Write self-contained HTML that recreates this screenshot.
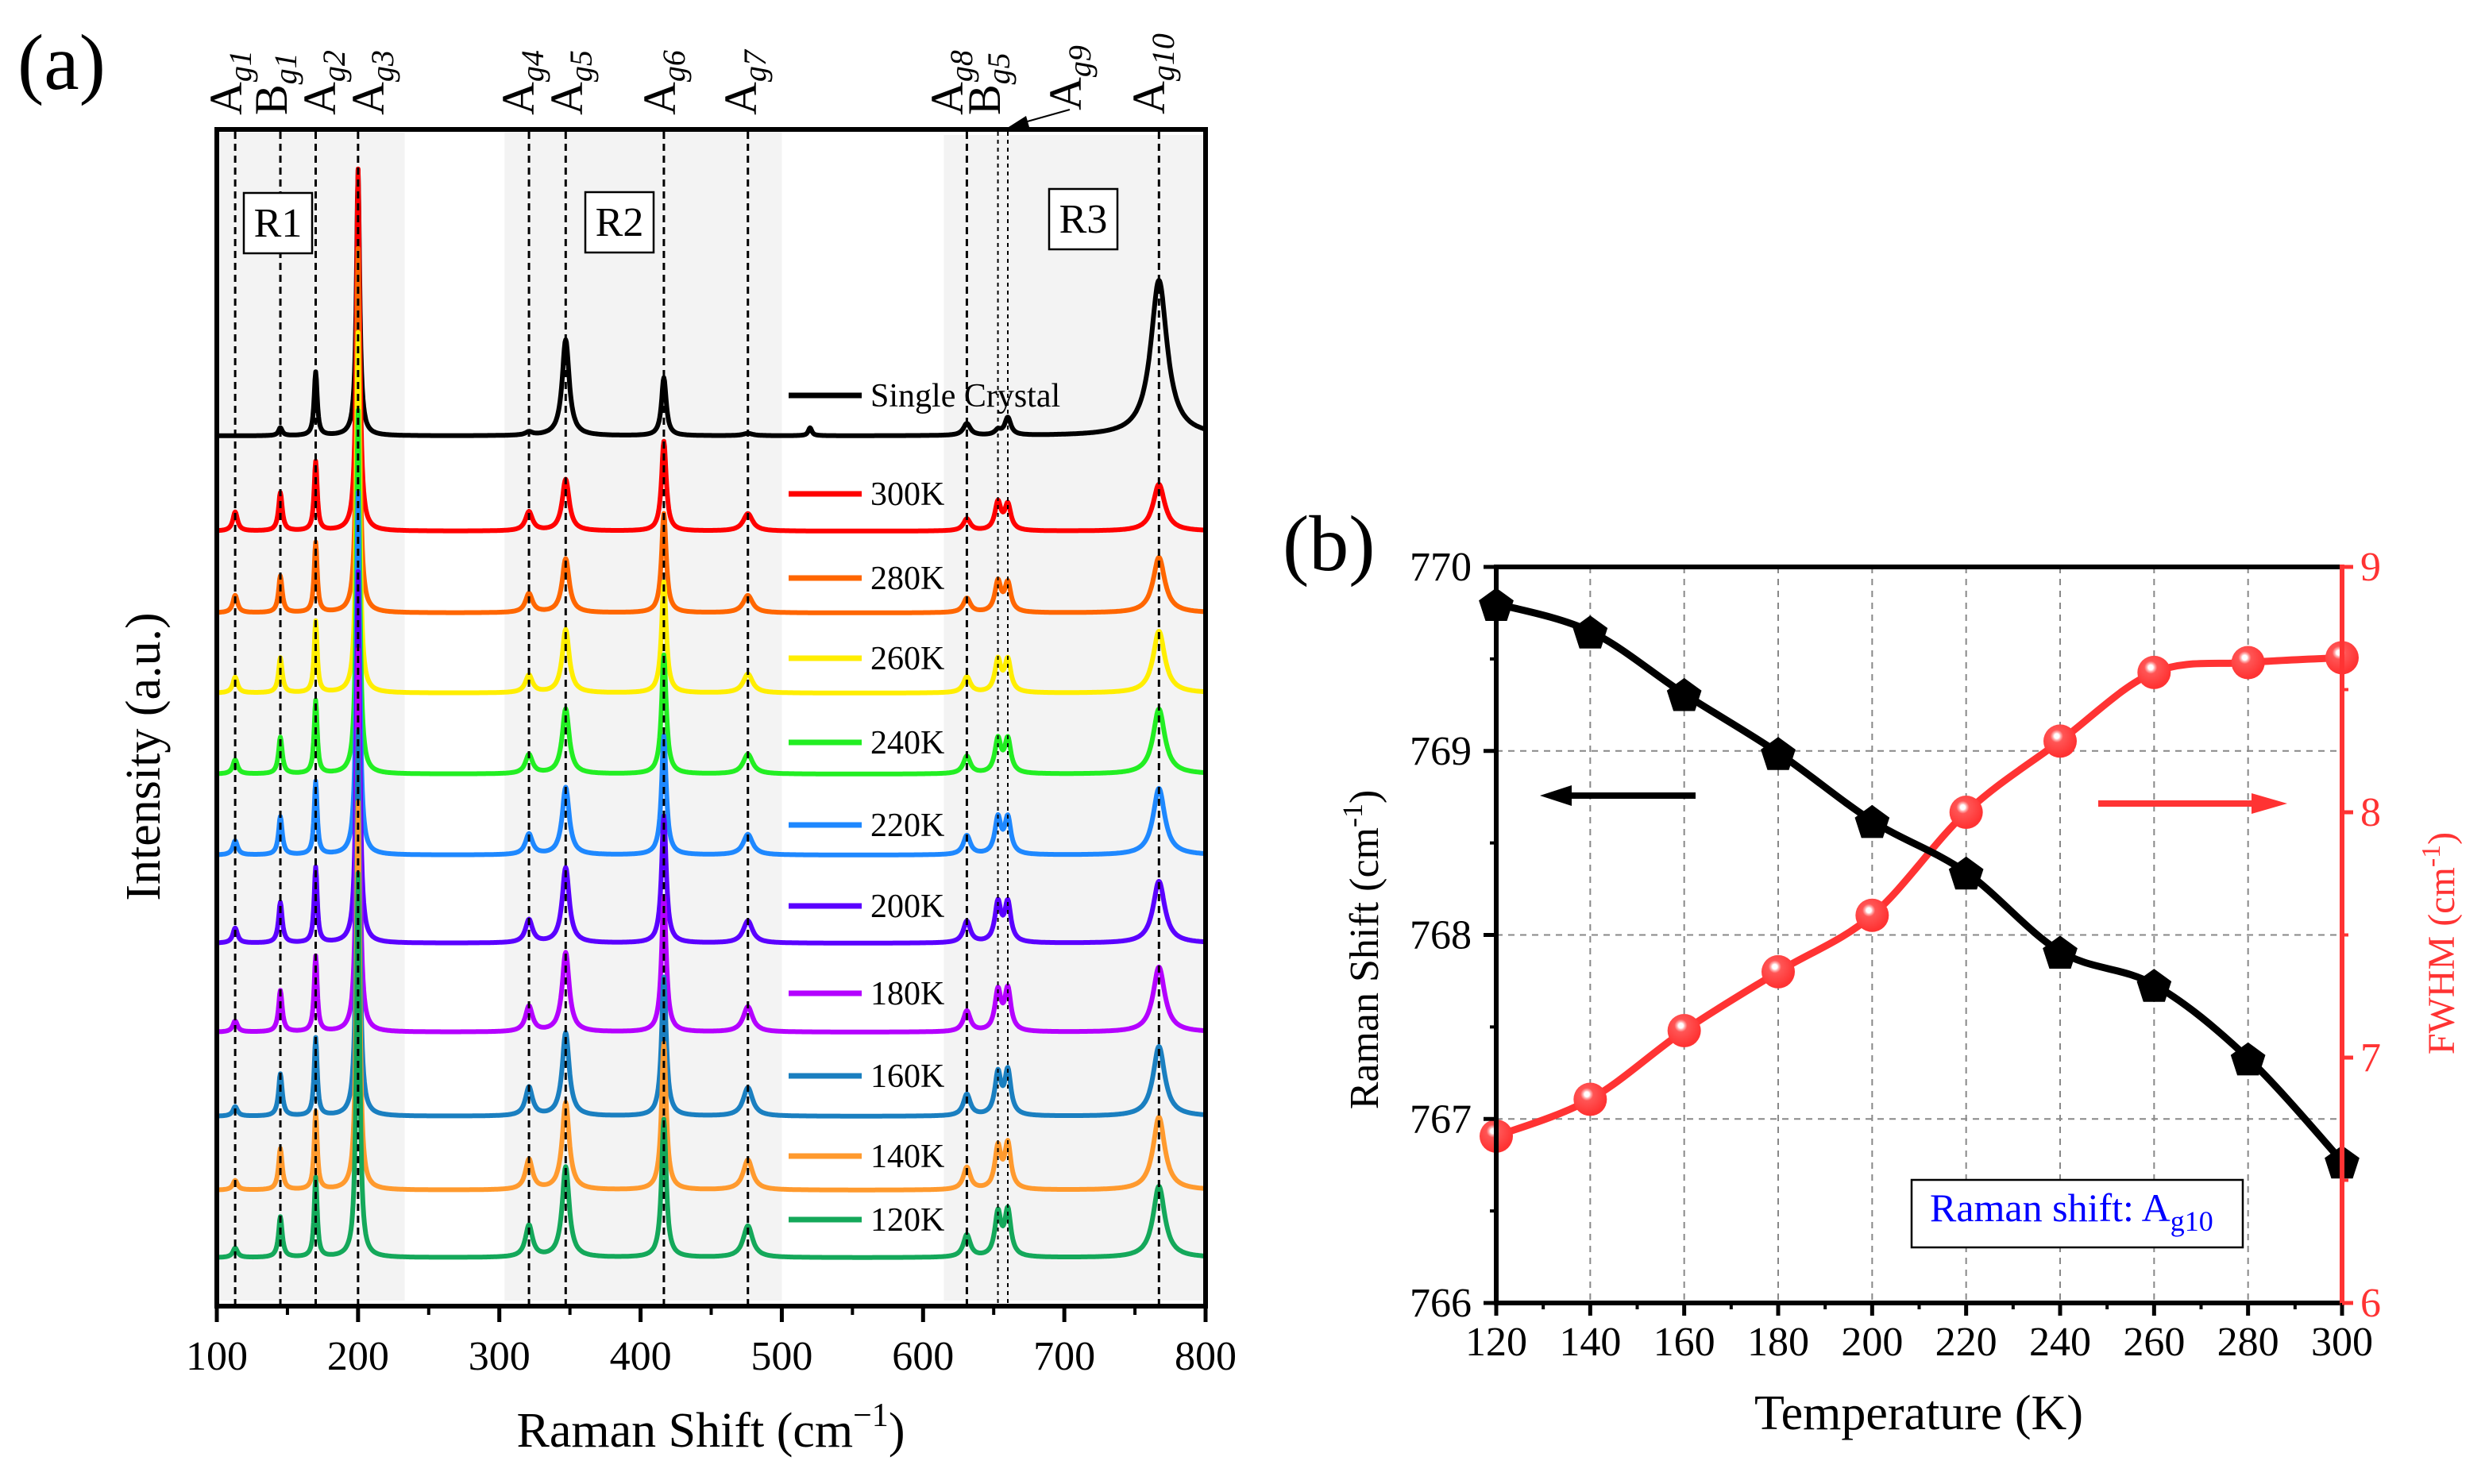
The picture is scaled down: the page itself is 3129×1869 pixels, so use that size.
<!DOCTYPE html>
<html><head><meta charset="utf-8"><style>
html,body{margin:0;padding:0;background:#fff;}
svg, svg text, svg tspan{font-family:"Liberation Serif","Times New Roman",Times,serif;}
</style></head><body>
<svg id="fig" width="3129" height="1864" viewBox="0 0 3129 1864" xmlns="http://www.w3.org/2000/svg" font-family="'Liberation Serif', 'Times New Roman', Times, serif">
<rect x="0" y="0" width="3129" height="1864" fill="#ffffff"/>
<g id="pa"></g>
<g id="pb"></g>
</svg>
<script>
// ---------------- Panel (a) data ----------------
const xTicksA = [100,200,300,400,500,600,700,800];
const modeNames = ["Ag1","Bg1","Ag2","Ag3","Ag4","Ag5","Ag6","Ag7","Ag8","Bg5","Ag9","Ag10"];
const modePos = [113,145,170,200,321,347,416.5,476,631,653,660,767];
const modeWidth = [2,1.6,1.3,1.4,3,3,2,4,3,2.6,2.6,5];
const spectraLabels = ["Single Crystal","300K","280K","260K","240K","220K","200K","180K","160K","140K","120K"];
const spectraColors = ["#000000","#ff0000","#ff6600","#ffee00","#22ee22","#1e88ff","#5a00ff","#b400ff","#1a7fc0","#ff9a2e","#14a85a"];
const spectraOffsets = [1096,976,873,772,670,568,457,345,239,146,61];
const ampSC   = [0,10,80,335,4,121,73,3,15,6,22,196];
const amp300  = [24,48,87,456,24,65,113,22,15,35,32,59];
const amp280  = [22,46,88,459,24,68,125,22,18,38,36,70];
const amp260  = [20,44,90,454,22,80,140,24,20,40,40,78];
const amp240  = [18,46,92,458,24,82,150,25,22,42,42,82];
const amp220  = [18,48,92,457,26,85,150,26,24,45,45,84];
const amp200  = [19,51,95,468,29,95,160,28,27,49,49,78];
const amp180  = [14,52,95,482,32,100,170,32,26,50,52,82];
const amp160  = [12,53,98,486,36,105,175,36,27,52,55,88];
const amp140  = [12,52,98,489,38,110,185,38,28,52,56,92];
const amp120  = [12,51,100,484,40,114,174,40,28,54,57,90];
const ampTable = [ampSC,amp300,amp280,amp260,amp240,amp220,amp200,amp180,amp160,amp140,amp120];
const extraSCPos = [520];
const extraSCAmp = [10];

// ---------------- Panel (b) data ----------------
const temps = [120,140,160,180,200,220,240,260,280,300];
const ramanShift = [769.80,769.65,769.31,768.99,768.62,768.34,767.91,767.73,767.33,766.77];
const fwhm = [6.68,6.83,7.11,7.35,7.58,8.00,8.29,8.57,8.61,8.63];
const xTicksB = [120,140,160,180,200,220,240,260,280,300];
const yTicksL = [766,767,768,769,770];
const yTicksR = [6,7,8,9];

const NS="http://www.w3.org/2000/svg";
const FF="'Liberation Serif', 'Times New Roman', Times, serif";
function mk(parent,tag,attrs,text){const e=document.createElementNS(NS,tag);for(const k in attrs)e.setAttribute(k,attrs[k]);if(tag==='text')e.setAttribute('font-family',FF);if(text!==undefined)e.textContent=text;parent.appendChild(e);return e;}

// ===== Panel A =====
const pa=document.getElementById('pa');
const AL=273,AR=1518,AT=163,AB=1645;
const xA=v=>AL+(v-100)/700*(AR-AL);
const yA=v=>AB-v;

[[100,233,167],[302,500,165],[613,799,170]].forEach((r,i)=>{
  const e=mk(pa,'rect',{x:xA(r[0])+3,y:r[2],width:xA(r[1])-xA(r[0])-3,height:1638-r[2],fill:'#f3f3f3'});
  
  
});

function lor(x,x0,w){return 1/(1+((x-x0)/w)*((x-x0)/w));}
spectraLabels.forEach((lab,s)=>{
  let d='';
  for(let x=100;x<=800;x+=0.5){
    let v=spectraOffsets[s];
    const amps=ampTable[s];
    for(let m=0;m<modePos.length;m++){
      const w=(s===0&&m===11)?7:modeWidth[m];
      v+=amps[m]*lor(x,modePos[m],w);
    }
    if(s===0){for(let k=0;k<extraSCPos.length;k++)v+=extraSCAmp[k]*lor(x,extraSCPos[k],1.5);}
    d+=(d?'L':'M')+xA(x).toFixed(1)+' '+yA(v).toFixed(1);
  }
  const p=mk(pa,'path',{d:d,fill:'none',stroke:spectraColors[s],'stroke-width':6,'stroke-linejoin':'round'});
  
  
});

modePos.forEach((m,i)=>{
  const thin=(i===9||i===10);
  const l=mk(pa,'line',{x1:xA(m),x2:xA(m),y1:166,y2:1643,stroke:'#000','stroke-width':thin?2:3,'stroke-dasharray':thin?'5 5':'9 6'});
  
  
});

const fr=mk(pa,'rect',{x:AL,y:AT,width:AR-AL,height:AB-AT,fill:'none',stroke:'#000','stroke-width':6});



xTicksA.forEach(t=>{
  const tk=mk(pa,'line',{x1:xA(t),x2:xA(t),y1:AB,y2:AB+20,stroke:'#000','stroke-width':5});
  
  
  const tl=mk(pa,'text',{x:xA(t),y:1725,'font-size':52,'text-anchor':'middle'},String(t));
  
  
  if(t<800){const mt=mk(pa,'line',{x1:xA(t+50),x2:xA(t+50),y1:AB,y2:AB+11,stroke:'#000','stroke-width':4});
  
  }
});

spectraLabels.forEach((lab,s)=>{
  const ly=[498,622,728,829,935,1039,1141,1251,1355,1456,1536][s];
  const g=mk(pa,'g',{});
  
  
  mk(g,'line',{x1:993,x2:1085,y1:ly,y2:ly,stroke:spectraColors[s],'stroke-width':7});
  mk(g,'text',{x:1096,y:ly+14,'font-size':42},lab);
});
</script>
<script>
(function(){
const pa=document.getElementById('pa');
[[307,243,'R1'],[737,242,'R2'],[1321,238,'R3']].forEach(b=>{
  const g=mk(pa,'g',{});
  
  
  mk(g,'rect',{x:b[0],y:b[1],width:86,height:76,fill:'#fff',stroke:'#000','stroke-width':2.5});
  mk(g,'text',{x:b[0]+43,y:b[1]+55,'font-size':52,'text-anchor':'middle'},b[2]);
});
const labA=[285,342,403,464,653,714,831,933,1193,1240,1342,1447];
const labBottom=[145,145,145,145,145,145,145,145,145,145,139,144];
modeNames.forEach((n,i)=>{
  const t=mk(pa,'text',{transform:'translate('+(labA[i]+19)+','+labBottom[i]+') rotate(-90)','font-size':58});
  
  
  mk(t,'tspan',{},n[0]);
  mk(t,'tspan',{'font-size':40,'font-style':'italic',dy:12},n.slice(1));
});
const ar=mk(pa,'g',{});


mk(ar,'line',{x1:1347,y1:138,x2:1290,y2:154,stroke:'#000','stroke-width':2});
mk(ar,'polygon',{points:'1270,160 1292,146 1296,160',fill:'#000'});
const xt=mk(pa,'text',{x:895,y:1822,'font-size':62,'text-anchor':'middle'});


mk(xt,'tspan',{},'Raman Shift (cm');
mk(xt,'tspan',{'font-size':42,dy:-26},'−1');
mk(xt,'tspan',{dy:26},')');
const yt=mk(pa,'text',{transform:'translate(201,953) rotate(-90)','font-size':62,'text-anchor':'middle'},'Intensity (a.u.)');


const pl=mk(pa,'text',{x:22,y:112,'font-size':100},'(a)');



// ===== Panel B =====
const pb=document.getElementById('pb');
const BL=1884,BR=2949,BT=714,BB=1641;
const xB=v=>BL+(v-120)/180*(BR-BL);
const yL=v=>BB-(v-766)/4*(BB-BT);
const yR=v=>BB-(v-6)/3*(BB-BT);
const RED='#ff3333';
xTicksB.slice(1,-1).forEach(t=>{
  const g=mk(pb,'line',{x1:xB(t),x2:xB(t),y1:BT,y2:BB,stroke:'#888','stroke-width':2,'stroke-dasharray':'8 7'});
  
  
});
yTicksL.slice(1,-1).forEach(t=>{
  const g=mk(pb,'line',{x1:BL,x2:BR,y1:yL(t),y2:yL(t),stroke:'#888','stroke-width':2,'stroke-dasharray':'8 7'});
  
  
});
function spline(pts){
  let d='M'+pts[0][0]+' '+pts[0][1];
  for(let i=0;i<pts.length-1;i++){
    const p0=pts[Math.max(0,i-1)],p1=pts[i],p2=pts[i+1],p3=pts[Math.min(pts.length-1,i+2)];
    const c1=[p1[0]+(p2[0]-p0[0])/6,p1[1]+(p2[1]-p0[1])/6];
    const c2=[p2[0]-(p3[0]-p1[0])/6,p2[1]-(p3[1]-p1[1])/6];
    d+='C'+c1[0].toFixed(1)+' '+c1[1].toFixed(1)+' '+c2[0].toFixed(1)+' '+c2[1].toFixed(1)+' '+p2[0].toFixed(1)+' '+p2[1].toFixed(1);
  }
  return d;
}
const defs=mk(pb,'defs',{});
const rg=mk(defs,'radialGradient',{id:'ball',cx:'0.4',cy:'0.35',r:'0.6'});
mk(rg,'stop',{offset:'0',"stop-color":'#ffffff'});
mk(rg,'stop',{offset:'0.12',"stop-color":'#ffffff'});
mk(rg,'stop',{offset:'0.2',"stop-color":'#ffb0b0'});
mk(rg,'stop',{offset:'0.32',"stop-color":'#ff5555'});
mk(rg,'stop',{offset:'1',"stop-color":'#ff3333'});

const fl=mk(pb,'path',{d:spline(temps.map((t,i)=>[xB(t),yR(fwhm[i])])),fill:'none',stroke:RED,'stroke-width':9});


const rl=mk(pb,'path',{d:spline(temps.map((t,i)=>[xB(t),yL(ramanShift[i])])),fill:'none',stroke:'#000','stroke-width':9});


temps.forEach((t,i)=>{
  const c=mk(pb,'circle',{cx:xB(t),cy:yR(fwhm[i]),r:21,fill:'url(#ball)'});
  
  
});
temps.forEach((t,i)=>{
  const cx=xB(t),cy=yL(ramanShift[i]);let pts=[];
  for(let k=0;k<5;k++){const a=-Math.PI/2+k*2*Math.PI/5;pts.push((cx+23*Math.cos(a)).toFixed(1)+','+(cy+3+23*Math.sin(a)).toFixed(1));}
  const p=mk(pb,'polygon',{points:pts.join(' '),fill:'#000'});
  
  
});
const ax=mk(pb,'g',{});


mk(ax,'line',{x1:BL-3,x2:BR,y1:BT,y2:BT,stroke:'#000','stroke-width':6});
mk(ax,'line',{x1:BL-3,x2:BR,y1:BB,y2:BB,stroke:'#000','stroke-width':6});
mk(ax,'line',{x1:BL,x2:BL,y1:BT,y2:BB+3,stroke:'#000','stroke-width':6});
mk(ax,'line',{x1:BR,x2:BR,y1:BT-3,y2:BB+3,stroke:RED,'stroke-width':6});
xTicksB.forEach(t=>{
  mk(ax,'line',{x1:xB(t),x2:xB(t),y1:BB,y2:BB+16,stroke:'#000','stroke-width':5});
  if(t<300)mk(ax,'line',{x1:xB(t+10),x2:xB(t+10),y1:BB,y2:BB+8,stroke:'#000','stroke-width':4});
  const tl=mk(pb,'text',{x:xB(t),y:1707,'font-size':52,'text-anchor':'middle'},String(t));
  
  
});
yTicksL.forEach(t=>{
  mk(ax,'line',{x1:BL-16,x2:BL,y1:yL(t),y2:yL(t),stroke:'#000','stroke-width':5});
  if(t<770)mk(ax,'line',{x1:BL-8,x2:BL,y1:yL(t+0.5),y2:yL(t+0.5),stroke:'#000','stroke-width':4});
  const tl=mk(pb,'text',{x:1853,y:yL(t)+17,'font-size':52,'text-anchor':'end'},String(t));
  
  
});
yTicksR.forEach(t=>{
  mk(ax,'line',{x1:BR,x2:BR+14,y1:yR(t),y2:yR(t),stroke:RED,'stroke-width':5});
  if(t<9)mk(ax,'line',{x1:BR,x2:BR+8,y1:yR(t+0.5),y2:yR(t+0.5),stroke:RED,'stroke-width':4});
  const tl=mk(pb,'text',{x:2972,y:yR(t)+17,'font-size':52,fill:RED},String(t));
  
  
});
const la=mk(pb,'g',{});


mk(la,'line',{x1:2135,x2:1970,y1:1002,y2:1002,stroke:'#000','stroke-width':8});
mk(la,'polygon',{points:'1939,1002 1979,989 1979,1015',fill:'#000'});
const ra=mk(pb,'g',{});


mk(ra,'line',{x1:2642,x2:2850,y1:1012,y2:1012,stroke:RED,'stroke-width':8});
mk(ra,'polygon',{points:'2880,1012 2835,999 2835,1025',fill:RED});
const ib=mk(pb,'g',{});


mk(ib,'rect',{x:2407,y:1486,width:417,height:85,fill:'#fff',stroke:'#000','stroke-width':2.5});
const it=mk(ib,'text',{x:2430,y:1538,'font-size':50,fill:'#0000ff'});
mk(it,'tspan',{},'Raman shift: A');
mk(it,'tspan',{'font-size':36,dy:12},'g10');
const xtb=mk(pb,'text',{x:2416,y:1800,'font-size':62,'text-anchor':'middle'},'Temperature (K)');


const ylt=mk(pb,'text',{transform:'translate(1735,1196) rotate(-90)','font-size':52,'text-anchor':'middle'});


mk(ylt,'tspan',{},'Raman Shift (cm');
mk(ylt,'tspan',{'font-size':36,dy:-20},'-1');
mk(ylt,'tspan',{dy:20},')');
const yrt=mk(pb,'text',{transform:'translate(3090,1188) rotate(-90)','font-size':48,'text-anchor':'middle',fill:RED});


mk(yrt,'tspan',{},'FWHM (cm');
mk(yrt,'tspan',{'font-size':34,dy:-18},'-1');
mk(yrt,'tspan',{dy:18},')');
const plb=mk(pb,'text',{x:1615,y:718,'font-size':100},'(b)');


})();
</script>
</body></html>
